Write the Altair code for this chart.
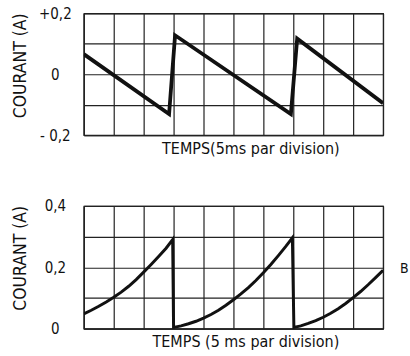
import altair as alt
import pandas as pd

# Top panel (A): sawtooth current
top_t = [0, 2.85, 3.05, 6.92, 7.13, 10]
top_i = [0.066, -0.131, 0.128, -0.131, 0.117, -0.095]

# Bottom panel (B): charging-type current with resets
bot_t = [0, 0.25, 0.5, 0.75, 1, 1.25, 1.5, 1.75, 2, 2.25, 2.5, 2.75, 2.97,
         3.0, 3.25, 3.5, 3.75, 4, 4.25, 4.5, 4.75, 5, 5.25, 5.5, 5.75, 6, 6.25, 6.5, 6.75, 6.97,
         7.02, 7.25, 7.5, 7.75, 8, 8.25, 8.5, 8.75, 9, 9.25, 9.5, 9.75, 10]
bot_i = [0.048, 0.060, 0.073, 0.087, 0.102, 0.119, 0.138, 0.160, 0.184, 0.209, 0.235, 0.262, 0.290,
         0.004, 0.009, 0.016, 0.024, 0.034, 0.046, 0.060, 0.076, 0.094, 0.113, 0.134, 0.157, 0.182,
         0.209, 0.238, 0.268, 0.296,
         0.004, 0.009, 0.017, 0.026, 0.037, 0.050, 0.065, 0.082, 0.101, 0.121, 0.143, 0.166, 0.190]

grid_x = list(range(11))
top_grid_y = [-0.2, -0.1, 0, 0.1, 0.2]
bot_grid_y = [0, 0.1, 0.2, 0.3, 0.4]

x_title_top = "TEMPS(5ms par division)"
x_title_bot = "TEMPS (5 ms par division)"
y_title = "COURANT (A)"
side_label = "B"

FONT = "DejaVu Sans Condensed"
W = 300

top_df = pd.DataFrame({"t": top_t, "i": top_i})
bot_df = pd.DataFrame({"t": bot_t, "i": bot_i})


def x_axis(title, tx):
    return alt.Axis(values=grid_x, labels=False, ticks=False, grid=True,
                    gridColor="#222", gridWidth=1.2, domainColor="#222",
                    domainWidth=1.2, title=title, titleX=tx, titlePadding=5,
                    titleFont=FONT, titleFontSize=16, titleFontWeight="normal",
                    titleColor="#111")


def y_axis(values, expr):
    return alt.Axis(values=values, ticks=False, tickSize=0, grid=True,
                    gridColor="#222", gridWidth=1.2, domainColor="#222",
                    domainWidth=1.2, labelExpr=expr, labelAlign="center",
                    labelPadding=29, labelFont=FONT, labelFontSize=15,
                    labelColor="#111", title=y_title, titleFont=FONT,
                    titleFontSize=17.5, titleFontWeight="normal", titleColor="#111",
                    titleX=-54, titleY=52)


top_expr = ("abs(datum.value-0.2)<1e-6 ? '+0,2' : abs(datum.value)<1e-6 ? '0' : "
            "abs(datum.value+0.2)<1e-6 ? '- 0,2' : ''")
bot_expr = ("abs(datum.value-0.4)<1e-6 ? '0,4' : abs(datum.value-0.2)<1e-6 ? '0,2' : "
            "abs(datum.value)<1e-6 ? '0' : ''")

top = alt.Chart(top_df).mark_line(color="#111", strokeWidth=3.8, clip=True).encode(
    x=alt.X("t:Q", scale=alt.Scale(domain=[0, 10], nice=False), axis=x_axis(x_title_top, 167)),
    y=alt.Y("i:Q", scale=alt.Scale(domain=[-0.2, 0.2], nice=False),
            axis=y_axis(top_grid_y, top_expr)),
).properties(width=W, height=122)

bot_line = alt.Chart(bot_df).mark_line(color="#111", strokeWidth=3.0, clip=True).encode(
    x=alt.X("t:Q", scale=alt.Scale(domain=[0, 10], nice=False), axis=x_axis(x_title_bot, 162)),
    y=alt.Y("i:Q", scale=alt.Scale(domain=[0, 0.4], nice=False),
            axis=y_axis(bot_grid_y, bot_expr)),
)
bot_lab = alt.Chart(pd.DataFrame({"s": [side_label]})).mark_text(
    align="left", baseline="middle", font=FONT, fontSize=14, color="#111"
).encode(x=alt.value(317), y=alt.value(63), text="s:N")
bot = alt.layer(bot_line, bot_lab).properties(width=W, height=123)

chart = alt.vconcat(top, bot, spacing=41).properties(
    padding={"left": 11, "top": 5, "right": 0, "bottom": 0},
    background="white",
).configure_view(stroke="#222", strokeWidth=1.2)

chart.save("out.html", embed_options={"renderer": "svg", "actions": False})
